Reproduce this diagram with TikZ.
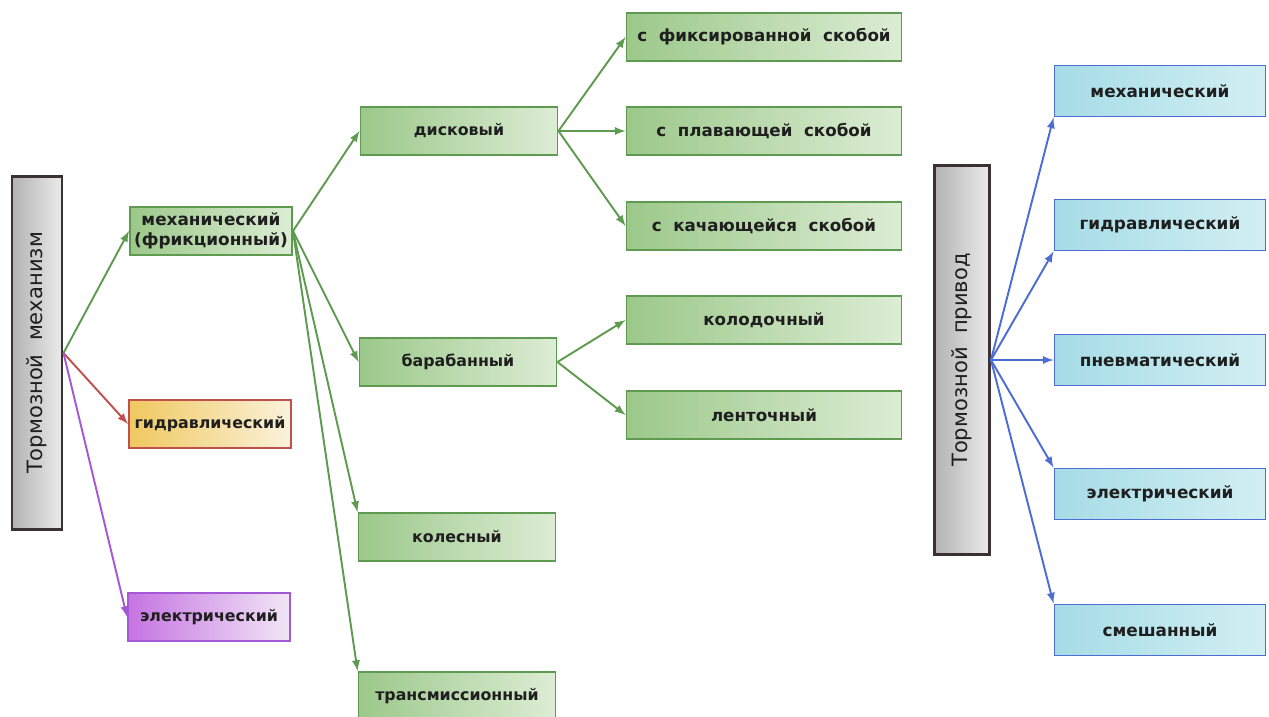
\documentclass[tikz,border=0pt]{standalone}
\usepackage{fontspec}
\setmainfont[WordSpace=2.0]{DejaVu Sans}
\usetikzlibrary{positioning,arrows}

\definecolor{grline}{HTML}{5E9A50}
\definecolor{grdark}{HTML}{9CC88A}
\definecolor{grlight}{HTML}{DCEDD4}
\definecolor{redline}{HTML}{C0504D}
\definecolor{ylwdark}{HTML}{F0C860}
\definecolor{ylwlight}{HTML}{FAF2DC}
\definecolor{violine}{HTML}{A458D6}
\definecolor{viodark}{HTML}{C574E2}
\definecolor{violight}{HTML}{F2E6F6}
\definecolor{bluline}{HTML}{4D6CD4}
\definecolor{bludark}{HTML}{A6DCE6}
\definecolor{blulight}{HTML}{D2EFF3}
\definecolor{sideline}{HTML}{3A3232}

\begin{document}
\begin{tikzpicture}[x=0.02cm,y=-0.02cm,
  every node/.style={inner sep=0pt,text=black!88},
  sidebox/.style={draw=sideline,line width=1.7pt,left color=black!30,right color=black!8,
    minimum width=1cm,minimum height=7.08cm,font=\fontsize{12}{14}\selectfont},
  gbox/.style={draw=grline,line width=1.1pt,left color=grdark,right color=grlight,
    minimum width=3.24cm,minimum height=0.96cm,align=center,
    font=\bfseries\fontsize{9}{11}\selectfont},
  kbox/.style={gbox,minimum width=3.94cm},
  sbox/.style={gbox,minimum width=5.5cm,font=\bfseries\fontsize{9.5}{11}\selectfont},
  ybox/.style={gbox,draw=redline,left color=ylwdark,right color=ylwlight},
  vbox/.style={gbox,draw=violine,left color=viodark,right color=violight},
  bbox/.style={gbox,draw=bluline,left color=bludark,right color=blulight,
    minimum width=4.22cm,minimum height=1.02cm,font=\bfseries\fontsize{9.6}{11}\selectfont},
  garr/.style={-latex,draw=grline,line width=1.1pt},
  rarr/.style={-latex,draw=redline,line width=1.1pt},
  varr/.style={-latex,draw=violine,line width=1.1pt},
  barr/.style={-latex,draw=bluline,line width=1.1pt}]
\useasboundingbox (0,0) rectangle (1269,717);

% brake mechanism
\node[sidebox] (meh) at (37,353) {\rotatebox{90}{Тормозной механизм}};
\node[gbox,font=\bfseries\fontsize{9.6}{11.5}\selectfont] (fric) at (211,231) {механический\\(фрикционный)};
\node[ybox] (ghyd) at (210,424) {гидравлический};
\node[vbox] (gel) at (209,617) {электрический};

\node[kbox] (disk) at (459,131) {дисковый};
\node[kbox] (drum) at (458,362) {барабанный};
\node[kbox] (wheel) at (457,537) {колесный};
\node[kbox] (trans) at (457,696) {трансмиссионный};

\node[sbox] (fix) at (764,37) {с фиксированной скобой};
\node[sbox] (plav) at (764,131) {с плавающей скобой};
\node[sbox] (kach) at (764,226) {с качающейся скобой};
\node[sbox] (kolod) at (764,320) {колодочный};
\node[sbox] (lent) at (764,415) {ленточный};

\draw[garr] (meh.east) -- (fric.west);
\draw[rarr] (meh.east) -- (ghyd.west);
\draw[varr] (meh.east) -- (gel.west);
\draw[garr] (fric.east) -- (disk.west);
\draw[garr] (fric.east) -- (drum.west);
\draw[garr] (fric.east) -- (wheel.north west);
\draw[garr] (fric.east) -- (trans.north west);
\draw[garr] (disk.east) -- (fix.west);
\draw[garr] (disk.east) -- (plav.west);
\draw[garr] (disk.east) -- (kach.west);
\draw[garr] (drum.east) -- (kolod.west);
\draw[garr] (drum.east) -- (lent.west);

% brake drive
\node[sidebox,minimum width=1.1cm,minimum height=7.8cm] (priv) at (962,360) {\rotatebox{90}{Тормозной привод}};
\node[bbox] (bmech) at (1160,91) {механический};
\node[bbox] (bhyd) at (1160,225) {гидравлический};
\node[bbox] (bpnev) at (1160,360) {пневматический};
\node[bbox] (bel) at (1160,494) {электрический};
\node[bbox] (bmix) at (1160,630) {смешанный};

\draw[barr] (priv.east) -- (bmech.south west);
\draw[barr] (priv.east) -- (bhyd.south west);
\draw[barr] (priv.east) -- (bpnev.west);
\draw[barr] (priv.east) -- (bel.north west);
\draw[barr] (priv.east) -- (bmix.north west);
\end{tikzpicture}
\end{document}
